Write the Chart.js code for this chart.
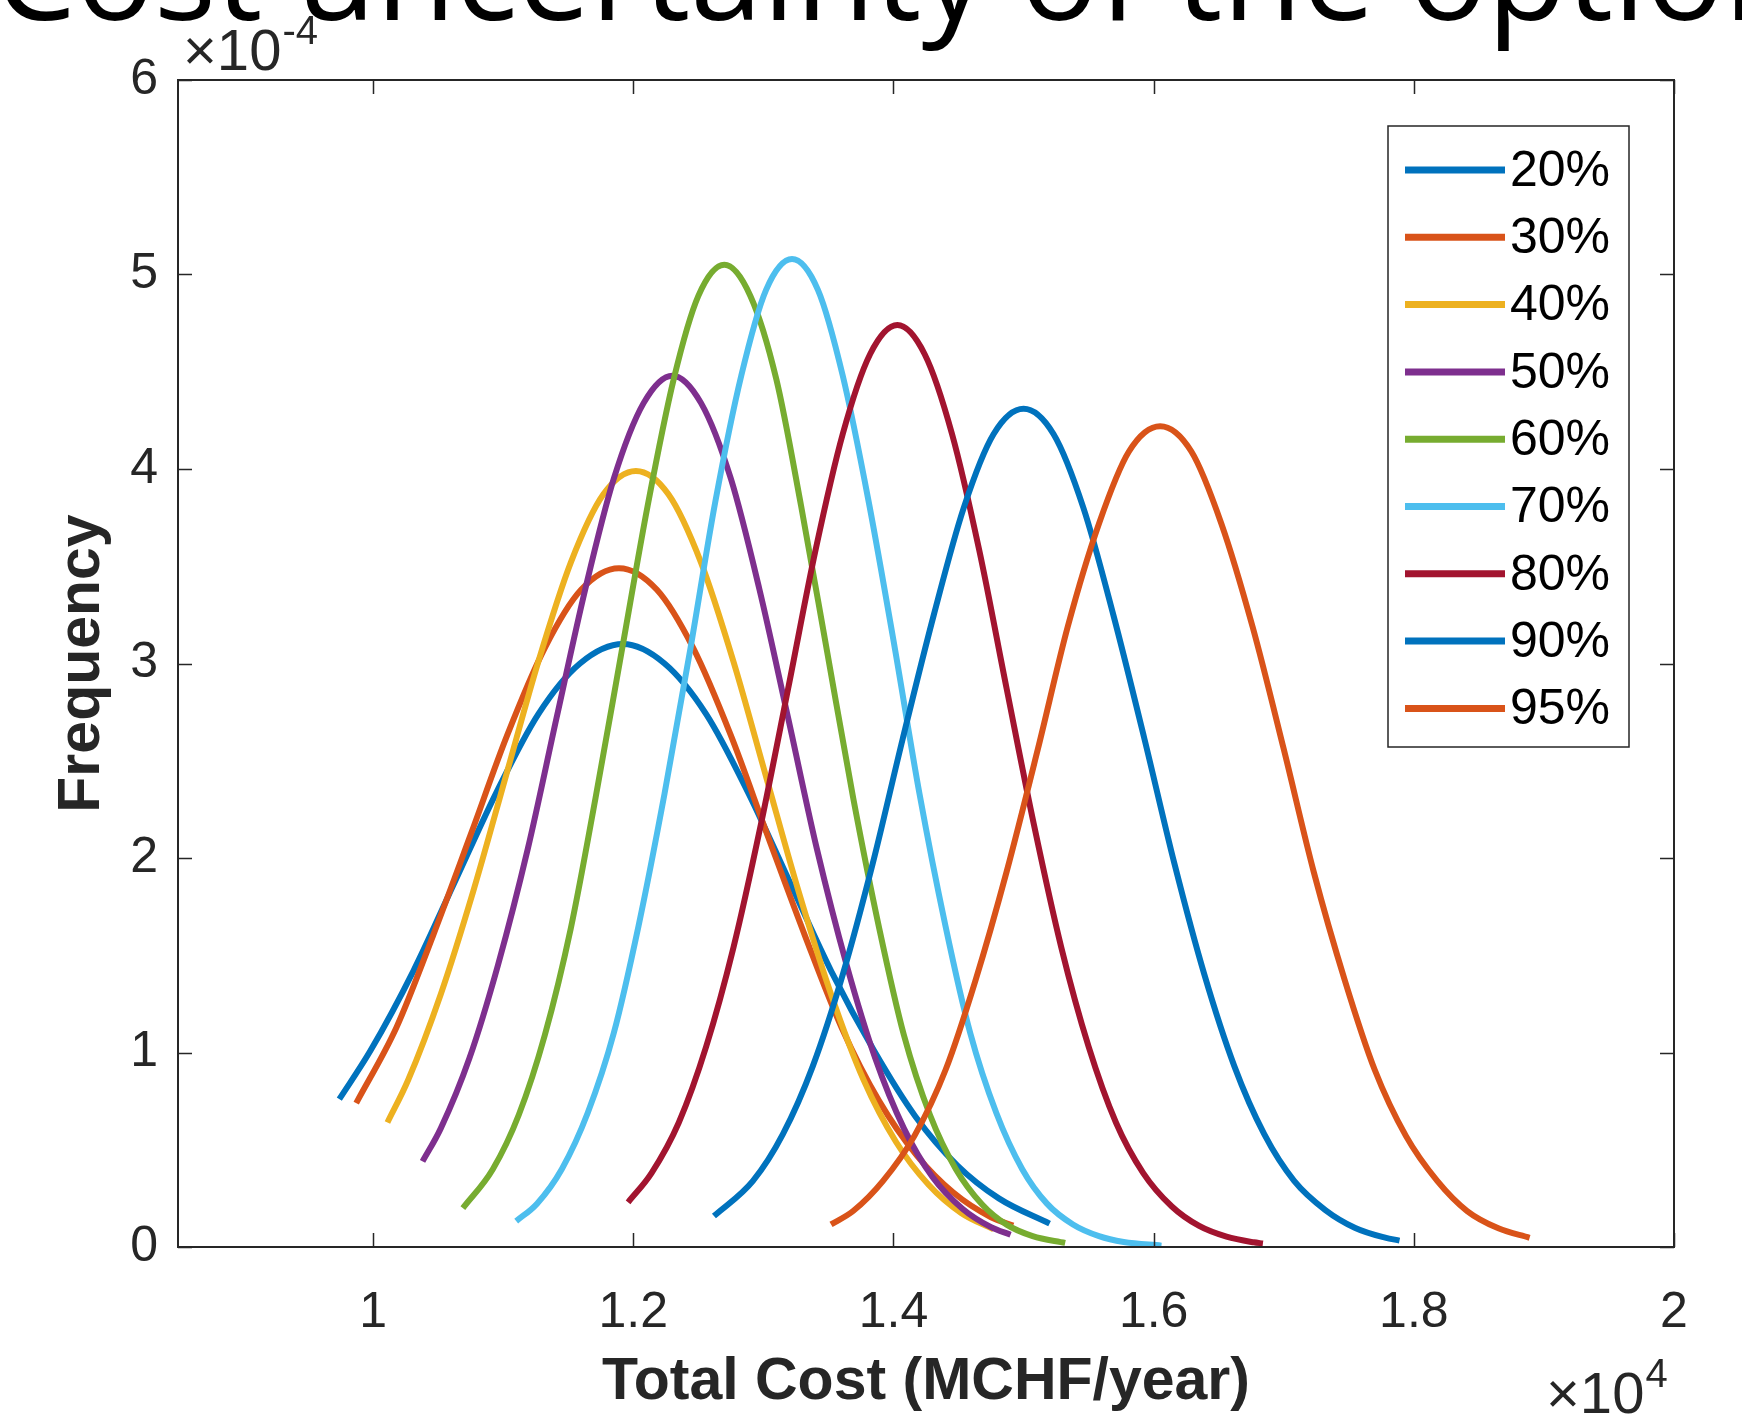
<!DOCTYPE html>
<html>
<head>
<meta charset="utf-8">
<script src="https://cdn.jsdelivr.net/npm/chart.js"></script>
<style>
    html, body { margin: 0; padding: 0; background: #fff; overflow: hidden; }
    canvas { display: block; }
</style>
</head>
<body>
<canvas id="costChart" width="1742" height="1424"></canvas>
<script>
// x values in 10^4 MCHF/year, y values in 10^-4 (as printed on the axes)
const seriesLabels = ['20%', '30%', '40%', '50%', '60%', '70%', '80%', '90%', '95%'];
const seriesColors = ['#0072BD', '#D95319', '#EDB120', '#7E2F8E', '#77AC30', '#4DBEEE', '#A2142F', '#0072BD', '#D95319'];

const cost20 = [0.974, 0.998, 1.031, 1.063, 1.095, 1.127, 1.159, 1.192, 1.224, 1.256, 1.288, 1.320, 1.352, 1.385, 1.417, 1.449, 1.481, 1.520];
const freq20 = [0.76, 1.01, 1.42, 1.88, 2.34, 2.74, 3.00, 3.10, 3.00, 2.74, 2.34, 1.88, 1.42, 1.01, 0.67, 0.42, 0.25, 0.12];

const cost30 = [0.987, 1.018, 1.046, 1.075, 1.103, 1.132, 1.160, 1.189, 1.218, 1.246, 1.275, 1.303, 1.332, 1.360, 1.389, 1.418, 1.446, 1.475, 1.492];
const freq30 = [0.74, 1.13, 1.60, 2.12, 2.63, 3.08, 3.38, 3.49, 3.38, 3.08, 2.63, 2.12, 1.60, 1.13, 0.75, 0.47, 0.28, 0.153, 0.11];

const cost40 = [1.011, 1.027, 1.052, 1.077, 1.102, 1.127, 1.152, 1.177, 1.202, 1.227, 1.252, 1.277, 1.302, 1.327, 1.352, 1.377, 1.402, 1.427, 1.452, 1.477];
const freq40 = [0.64, 0.86, 1.30, 1.83, 2.42, 3.01, 3.52, 3.87, 3.99, 3.87, 3.52, 3.01, 2.42, 1.83, 1.30, 0.86, 0.54, 0.32, 0.175, 0.091];

const cost50 = [1.038, 1.052, 1.074, 1.096, 1.119, 1.141, 1.163, 1.185, 1.208, 1.230, 1.252, 1.275, 1.297, 1.319, 1.341, 1.364, 1.386, 1.408, 1.430, 1.453, 1.475, 1.490];
const freq50 = [0.44, 0.61, 0.97, 1.45, 2.05, 2.72, 3.38, 3.95, 4.34, 4.48, 4.34, 3.95, 3.38, 2.72, 2.05, 1.45, 0.97, 0.61, 0.36, 0.197, 0.102, 0.063];

const cost60 = [1.069, 1.092, 1.112, 1.132, 1.152, 1.171, 1.191, 1.211, 1.231, 1.250, 1.270, 1.290, 1.310, 1.329, 1.349, 1.369, 1.389, 1.408, 1.428, 1.448, 1.468, 1.487, 1.507, 1.532];
const freq60 = [0.20, 0.40, 0.68, 1.09, 1.64, 2.31, 3.06, 3.81, 4.46, 4.89, 5.05, 4.89, 4.46, 3.81, 3.06, 2.31, 1.64, 1.09, 0.68, 0.40, 0.22, 0.115, 0.056, 0.021];

const cost70 = [1.110, 1.126, 1.145, 1.165, 1.185, 1.204, 1.224, 1.244, 1.263, 1.283, 1.302, 1.322, 1.342, 1.361, 1.381, 1.401, 1.420, 1.440, 1.459, 1.479, 1.499, 1.518, 1.538, 1.558, 1.577, 1.606];
const freq70 = [0.133, 0.223, 0.40, 0.69, 1.10, 1.65, 2.33, 3.08, 3.83, 4.48, 4.92, 5.08, 4.92, 4.48, 3.83, 3.08, 2.33, 1.65, 1.10, 0.69, 0.40, 0.223, 0.116, 0.056, 0.026, 0.007];

const cost80 = [1.196, 1.214, 1.235, 1.256, 1.277, 1.298, 1.319, 1.340, 1.361, 1.382, 1.403, 1.424, 1.445, 1.466, 1.487, 1.508, 1.529, 1.550, 1.571, 1.592, 1.614, 1.635, 1.656, 1.677, 1.684];
const freq80 = [0.23, 0.38, 0.64, 1.03, 1.54, 2.17, 2.87, 3.58, 4.18, 4.59, 4.74, 4.59, 4.18, 3.58, 2.87, 2.17, 1.54, 1.03, 0.64, 0.38, 0.208, 0.108, 0.053, 0.024, 0.018];

const cost90 = [1.262, 1.292, 1.315, 1.338, 1.361, 1.384, 1.407, 1.431, 1.454, 1.477, 1.500, 1.523, 1.546, 1.569, 1.593, 1.616, 1.639, 1.662, 1.685, 1.708, 1.732, 1.755, 1.778, 1.789];
const freq90 = [0.159, 0.34, 0.58, 0.93, 1.40, 1.97, 2.61, 3.25, 3.80, 4.18, 4.31, 4.18, 3.80, 3.25, 2.61, 1.97, 1.40, 0.93, 0.58, 0.34, 0.19, 0.098, 0.048, 0.033];

const cost95 = [1.352, 1.369, 1.392, 1.416, 1.440, 1.463, 1.487, 1.511, 1.534, 1.558, 1.581, 1.605, 1.629, 1.652, 1.676, 1.700, 1.723, 1.747, 1.770, 1.794, 1.818, 1.841, 1.865, 1.889];
const freq95 = [0.116, 0.185, 0.34, 0.57, 0.91, 1.37, 1.93, 2.56, 3.19, 3.72, 4.09, 4.22, 4.09, 3.72, 3.19, 2.56, 1.93, 1.37, 0.91, 0.57, 0.34, 0.185, 0.096, 0.047];

const xTicks = [1, 1.2, 1.4, 1.6, 1.8, 2];
const yTicks = [0, 1, 2, 3, 4, 5, 6];

const costs = [cost20, cost30, cost40, cost50, cost60, cost70, cost80, cost90, cost95];
const freqs = [freq20, freq30, freq40, freq50, freq60, freq70, freq80, freq90, freq95];

const axisColor = '#262626';
const sansFamily = '"Liberation Sans", Arial, sans-serif';

// box around the axes with inward ticks on all four sides (matlab style)
const boxPlugin = {
    id: 'box',
    afterDatasetsDraw(chart) {
        const { ctx, chartArea: a, scales } = chart;
        const len = 14;
        ctx.save();
        ctx.strokeStyle = axisColor;
        ctx.lineWidth = 2;
        ctx.strokeRect(a.left, a.top, a.right - a.left, a.bottom - a.top);
        ctx.beginPath();
        xTicks.forEach(v => {
            const px = Math.round(scales.x.getPixelForValue(v)) + 0.5;
            ctx.moveTo(px, a.bottom); ctx.lineTo(px, a.bottom - len);
            ctx.moveTo(px, a.top); ctx.lineTo(px, a.top + len);
        });
        yTicks.forEach(v => {
            const py = Math.round(scales.y.getPixelForValue(v)) + 0.5;
            ctx.moveTo(a.left, py); ctx.lineTo(a.left + len, py);
            ctx.moveTo(a.right, py); ctx.lineTo(a.right - len, py);
        });
        ctx.lineWidth = 1.5;
        ctx.stroke();
        ctx.restore();
    }
};

function drawPower(ctx, x, y, base, exp) {
    ctx.font = '58px ' + sansFamily;
    ctx.fillText(base, x, y);
    const w = ctx.measureText(base).width;
    ctx.font = '40px ' + sansFamily;
    ctx.fillText(exp, x + w + 1, y - 26);
}

// exponent labels, legend box and the cut off slide title
const extrasPlugin = {
    id: 'extras',
    afterDraw(chart) {
        const { ctx, chartArea: a } = chart;
        ctx.save();

        // slide title, only the lower part is visible
        ctx.fillStyle = '#000';
        ctx.font = '130px "Open Sans", sans-serif';
        ctx.textBaseline = 'alphabetic';
        ctx.textAlign = 'left';
        ctx.fillText('Cost uncertainty of the options', -6, 20);

        // x10^-4 above the y axis, x10^4 under the x axis
        ctx.fillStyle = axisColor;
        drawPower(ctx, a.left + 5, 70, '\u00d710', '-4');
        drawPower(ctx, 1546, 1413, '\u00d710', '4');

        // legend
        const lx = 1388, ly = 126, lw = 241, lh = 621;
        ctx.fillStyle = '#fff';
        ctx.fillRect(lx, ly, lw, lh);
        ctx.strokeStyle = axisColor;
        ctx.lineWidth = 1.5;
        ctx.strokeRect(lx, ly, lw, lh);
        ctx.font = '50px ' + sansFamily;
        ctx.textBaseline = 'middle';
        chart.data.datasets.forEach((ds, i) => {
            const cy = 170 + i * 67.3;
            ctx.strokeStyle = ds.borderColor;
            ctx.lineWidth = 7;
            ctx.beginPath();
            ctx.moveTo(1405, cy);
            ctx.lineTo(1505, cy);
            ctx.stroke();
            ctx.fillStyle = '#000';
            ctx.fillText(ds.label, 1510, cy + 2);
        });
        ctx.restore();
    }
};

const ctx = document.getElementById('costChart').getContext('2d');
const costChart = new Chart(ctx, {
    type: 'line',
    data: {
        datasets: seriesLabels.map((label, i) => ({
            label: label,
            data: costs[i].map((c, j) => ({ x: c, y: freqs[i][j] })),
            borderColor: seriesColors[i],
            backgroundColor: seriesColors[i],
            borderWidth: 6,
            pointRadius: 0,
            fill: false,
            cubicInterpolationMode: 'monotone',
            order: seriesLabels.length - i,
        })),
    },
    options: {
        responsive: false,
        animation: false,
        devicePixelRatio: 1,
        layout: { padding: { left: 0, top: 80, right: 68, bottom: 0 } },
        plugins: {
            legend: { display: false },
            tooltip: { enabled: false },
        },
        scales: {
            x: {
                type: 'linear',
                min: 0.85,
                max: 2,
                afterBuildTicks: scale => { scale.ticks = xTicks.map(v => ({ value: v })); },
                afterFit: scale => { scale.height = 177; },
                grid: { display: false, drawTicks: false },
                border: { display: false },
                ticks: {
                    color: axisColor,
                    font: { family: sansFamily, size: 50 },
                    padding: 36,
                    maxRotation: 0,
                    callback: v => String(v),
                },
                title: {
                    display: true,
                    text: 'Total Cost (MCHF/year)',
                    color: axisColor,
                    font: { family: sansFamily, size: 59, weight: 'bold' },
                    padding: { bottom: 6 },
                },
            },
            y: {
                type: 'linear',
                min: 0,
                max: 6,
                afterBuildTicks: scale => { scale.ticks = yTicks.map(v => ({ value: v })); },
                afterFit: scale => { scale.width = 178; },
                grid: { display: false, drawTicks: false },
                border: { display: false },
                ticks: {
                    color: axisColor,
                    font: { family: sansFamily, size: 50 },
                    padding: 20,
                    callback: v => String(v),
                },
                title: {
                    display: true,
                    text: 'Frequency',
                    color: axisColor,
                    font: { family: sansFamily, size: 59, weight: 'bold' },
                    padding: { top: 47 },
                },
            },
        },
    },
    plugins: [boxPlugin, extrasPlugin],
});
</script>
</body>
</html>
